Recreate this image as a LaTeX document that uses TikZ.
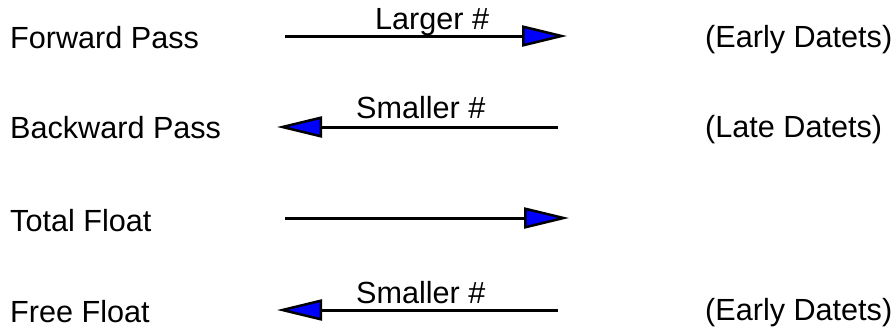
\documentclass[tikz,border=0pt]{standalone}
\usepackage{fontspec}
\setmainfont{Liberation Sans}
\usetikzlibrary{arrows.meta}

\tikzset{
  etiqueta/.style={anchor=base west, inner sep=0pt, font=\fontsize{30.6}{36}\selectfont},
  flecha/.style={line width=3pt,
    -{Triangle[length=45pt,width=21pt,fill=blue,line width=2.5pt]}},
}

\begin{document}
\begin{tikzpicture}[x=1pt,y=-1pt]
        \useasboundingbox (0,0) rectangle (896,327);

        % Paso 1: Define los extremos de las flechas
        \coordinate (FPa) at (285,36);  \coordinate (FPb) at (567,36);
        \coordinate (BPa) at (558,127); \coordinate (BPb) at (277,127);
        \coordinate (TFa) at (285,218); \coordinate (TFb) at (569,218);
        \coordinate (FFa) at (558,310); \coordinate (FFb) at (277,310);

        % Paso 2: Nombres de cada paso a la izquierda
        \node[etiqueta] (FP) at (10,48)  {Forward Pass};
        \node[etiqueta] (BP) at (10,138) {Backward Pass};
        \node[etiqueta] (TF) at (10,231) {Total Float};
        \node[etiqueta] (FF) at (10,322) {Free Float};

        % Paso 3: Dibuja las flechas
        \draw[flecha] (FPa) -- (FPb);
        \draw[flecha] (BPa) -- (BPb);
        \draw[flecha] (TFa) -- (TFb);
        \draw[flecha] (FFa) -- (FFb);

        % Paso 4: Textos sobre las flechas y a la derecha
        \node[etiqueta] (FPn) at (375,29)  {Larger \#};
        \node[etiqueta] (BPn) at (356,118) {Smaller \#};
        \node[etiqueta] (FFn) at (356,303) {Smaller \#};
        \node[etiqueta] (FPd) at (705,47)  {(Early Datets)};
        \node[etiqueta] (BPd) at (705,137) {(Late Datets)};
        \node[etiqueta] (FFd) at (705,320) {(Early Datets)};
    \end{tikzpicture}
\end{document}
